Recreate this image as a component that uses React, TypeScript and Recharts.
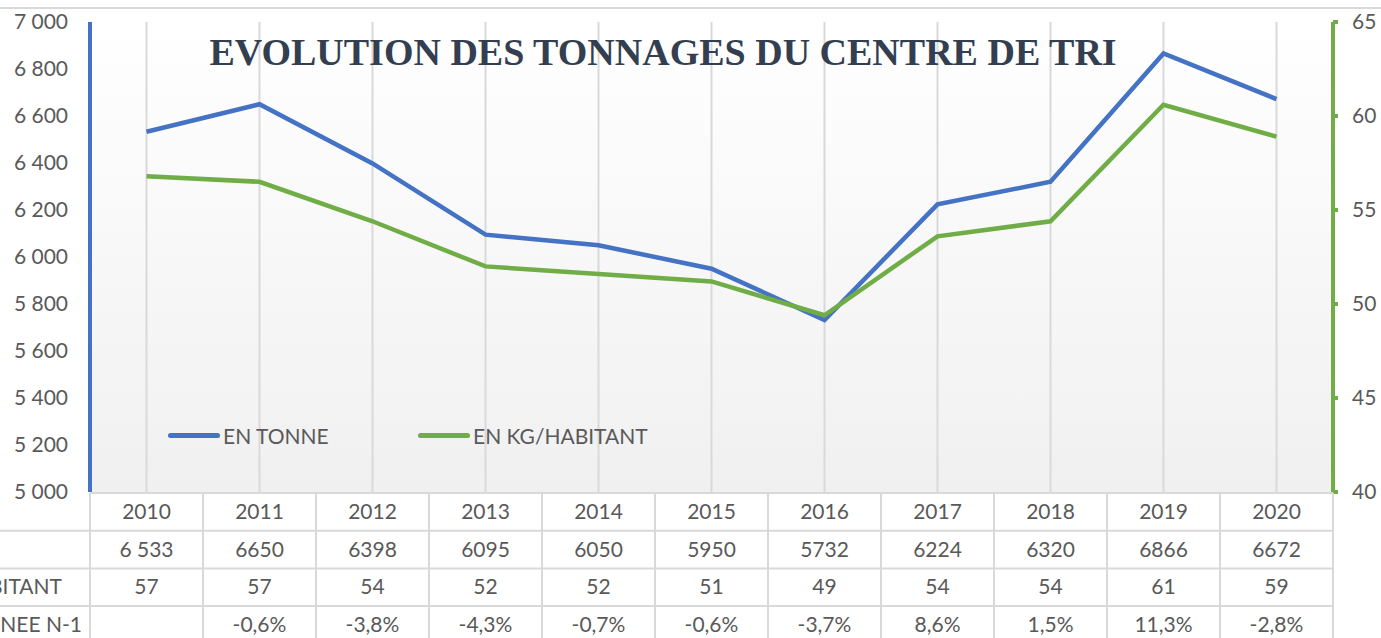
import React from 'react';
import {
  ComposedChart,
  Line,
  XAxis,
  YAxis,
  CartesianGrid,
  Legend
} from 'recharts';

const years = ['2010', '2011', '2012', '2013', '2014', '2015', '2016', '2017', '2018', '2019', '2020'];
const tonnes = [6533, 6650, 6398, 6095, 6050, 5950, 5732, 6224, 6320, 6866, 6672];
const kgHabitant = [56.8, 56.5, 54.4, 52.0, 51.6, 51.2, 49.4, 53.6, 54.4, 60.6, 58.9];
const tonneLabels = ['6 533', '6650', '6398', '6095', '6050', '5950', '5732', '6224', '6320', '6866', '6672'];
const evolutionLabels = ['', '-0,6%', '-3,8%', '-4,3%', '-0,7%', '-0,6%', '-3,7%', '8,6%', '1,5%', '11,3%', '-2,8%'];
const leftTicks = [5000, 5200, 5400, 5600, 5800, 6000, 6200, 6400, 6600, 6800, 7000];
const rightTicks = [40, 45, 50, 55, 60, 65];
const seriesNames = ['EN TONNE', 'EN KG/HABITANT'];

const data = years.map((year, i) => ({
  year,
  tonne: tonnes[i],
  kg: kgHabitant[i]
}));

const W = 1381;
const H = 638;
const LEFT_W = 90;
const RIGHT_W = 48;
const TOP = 22;
const AXIS_H = 146;
const CELL_W = (W - LEFT_W - RIGHT_W) / years.length;
const ROW_H = 37.7;

const BLUE = '#4472C4';
const GREEN = '#70AD47';
const TEXT = '#595959';
const BORDER = '#d9d9d9';
const FONT = 'Lato, "Open Sans", sans-serif';

const fmtThousands = (v: number) =>
  v >= 1000 ? `${Math.floor(v / 1000)} ${String(v % 1000).padStart(3, '0')}` : String(v);

// data table drawn under the x axis, one column per category
const TableTick = (props: any) => {
  const { x, y, payload } = props;
  const i = payload.index;
  const left = x - CELL_W / 2;
  const right = x + CELL_W / 2;
  const top = y + 1;
  const rows = [years[i], tonneLabels[i], String(Math.round(kgHabitant[i])), evolutionLabels[i]];
  const rowLines = [0, 1, 2, 3].map((r) => top + r * ROW_H);
  return (
    <g>
      {rowLines.map((ly, r) => (
        <line key={r} x1={left} x2={right} y1={ly} y2={ly} stroke={BORDER} strokeWidth={2} />
      ))}
      <line x1={right} x2={right} y1={top} y2={H} stroke={BORDER} strokeWidth={2} />
      {i === 0 && (
        <g>
          <line x1={left} x2={left} y1={top} y2={H} stroke={BORDER} strokeWidth={2} />
          {rowLines.slice(1).map((ly, r) => (
            <line key={r} x1={0} x2={left} y1={ly} y2={ly} stroke={BORDER} strokeWidth={2} />
          ))}
          <text x={-4} y={top + ROW_H * 1.5 + 7} textAnchor="end" fill={TEXT} fontSize={21} fontFamily={FONT}>
            EN TONNE
          </text>
          <text x={62} y={top + ROW_H * 2.5 + 7} textAnchor="end" fill={TEXT} fontSize={21} fontFamily={FONT}>
            EN KG/HABITANT
          </text>
          <text x={82} y={top + ROW_H * 3.5 + 7} textAnchor="end" fill={TEXT} fontSize={21} fontFamily={FONT}>
            EVOLUTION ANNEE N-1
          </text>
        </g>
      )}
      {rows.map((t, r) => (
        <text
          key={r}
          x={x}
          y={top + ROW_H * (r + 0.5) + 7}
          textAnchor="middle"
          fill={TEXT}
          fontSize={21}
          fontFamily={FONT}
        >
          {t}
        </text>
      ))}
    </g>
  );
};

const renderLegend = (props: any) => {
  const items = [...(props.payload || [])].sort(
    (a: any, b: any) => seriesNames.indexOf(a.value) - seriesNames.indexOf(b.value)
  );
  return (
    <div style={{ position: 'relative', width: 560, height: 30 }}>
      {items.map((p: any, i: number) => (
        <div
          key={p.value}
          style={{ position: 'absolute', left: i * 250, top: 0, height: 30, display: 'flex', alignItems: 'center' }}
        >
          <span style={{ display: 'inline-block', width: 52, height: 5, borderRadius: 3, background: p.color }} />
          <span style={{ marginLeft: 3, fontFamily: FONT, fontSize: 21, color: TEXT, whiteSpace: 'nowrap' }}>
            {p.value}
          </span>
        </div>
      ))}
    </div>
  );
};

export default function App() {
  return (
    <div style={{ position: 'absolute', left: 0, top: 0, width: W, height: H, background: '#fff', overflow: 'hidden' }}>
      <div style={{ position: 'absolute', left: 0, top: 7, width: W, height: 2, background: BORDER }} />
      <ComposedChart width={W} height={H} data={data} margin={{ top: TOP, right: 0, left: 0, bottom: 0 }}>
        <defs>
          <linearGradient id="plotBg" x1="0" y1="0" x2="0" y2="1">
            <stop offset="0%" stopColor="#ffffff" />
            <stop offset="100%" stopColor="#f0f0f0" />
          </linearGradient>
        </defs>
        <CartesianGrid horizontal={false} stroke={BORDER} strokeWidth={2} fill="url(#plotBg)" />
        <XAxis
          dataKey="year"
          scale="band"
          height={AXIS_H}
          axisLine={false}
          tickLine={false}
          tickSize={0}
          tickMargin={0}
          interval={0}
          tick={<TableTick />}
        />
        <YAxis
          yAxisId="left"
          width={LEFT_W}
          domain={[5000, 7000]}
          ticks={leftTicks}
          tickFormatter={fmtThousands}
          axisLine={{ stroke: BLUE, strokeWidth: 4 }}
          tickLine={false}
          tickSize={0}
          tickMargin={22}
          tick={{ fill: TEXT, fontSize: 21, fontFamily: FONT }}
          interval={0}
        />
        <YAxis
          yAxisId="right"
          orientation="right"
          width={RIGHT_W}
          domain={[40, 65]}
          ticks={rightTicks}
          axisLine={{ stroke: GREEN, strokeWidth: 4 }}
          tickLine={{ stroke: GREEN, strokeWidth: 4 }}
          tickSize={5}
          tickMargin={14}
          tick={{ fill: TEXT, fontSize: 21, fontFamily: FONT, textAnchor: 'start' }}
          interval={0}
        />
        <Legend
          layout="vertical"
          verticalAlign="middle"
          align="center"
          content={renderLegend}
          wrapperStyle={{ left: 168, top: 420, width: 560, height: 30 }}
        />
        <Line
          yAxisId="left"
          type="linear"
          dataKey="tonne"
          name={seriesNames[0]}
          stroke={BLUE}
          strokeWidth={4.5}
          dot={false}
          activeDot={false}
          isAnimationActive={false}
        />
        <Line
          yAxisId="right"
          type="linear"
          dataKey="kg"
          name={seriesNames[1]}
          stroke={GREEN}
          strokeWidth={4.5}
          dot={false}
          activeDot={false}
          isAnimationActive={false}
        />
      </ComposedChart>
      <div
        style={{
          position: 'absolute',
          left: 0,
          top: 32,
          width: 1326,
          textAlign: 'center',
          fontFamily: '"Liberation Serif", "Times New Roman", serif',
          fontWeight: 'bold',
          fontSize: 38,
          lineHeight: '40px',
          color: '#333F50',
          whiteSpace: 'nowrap'
        }}
      >
        EVOLUTION DES TONNAGES DU CENTRE DE TRI
      </div>
    </div>
  );
}
